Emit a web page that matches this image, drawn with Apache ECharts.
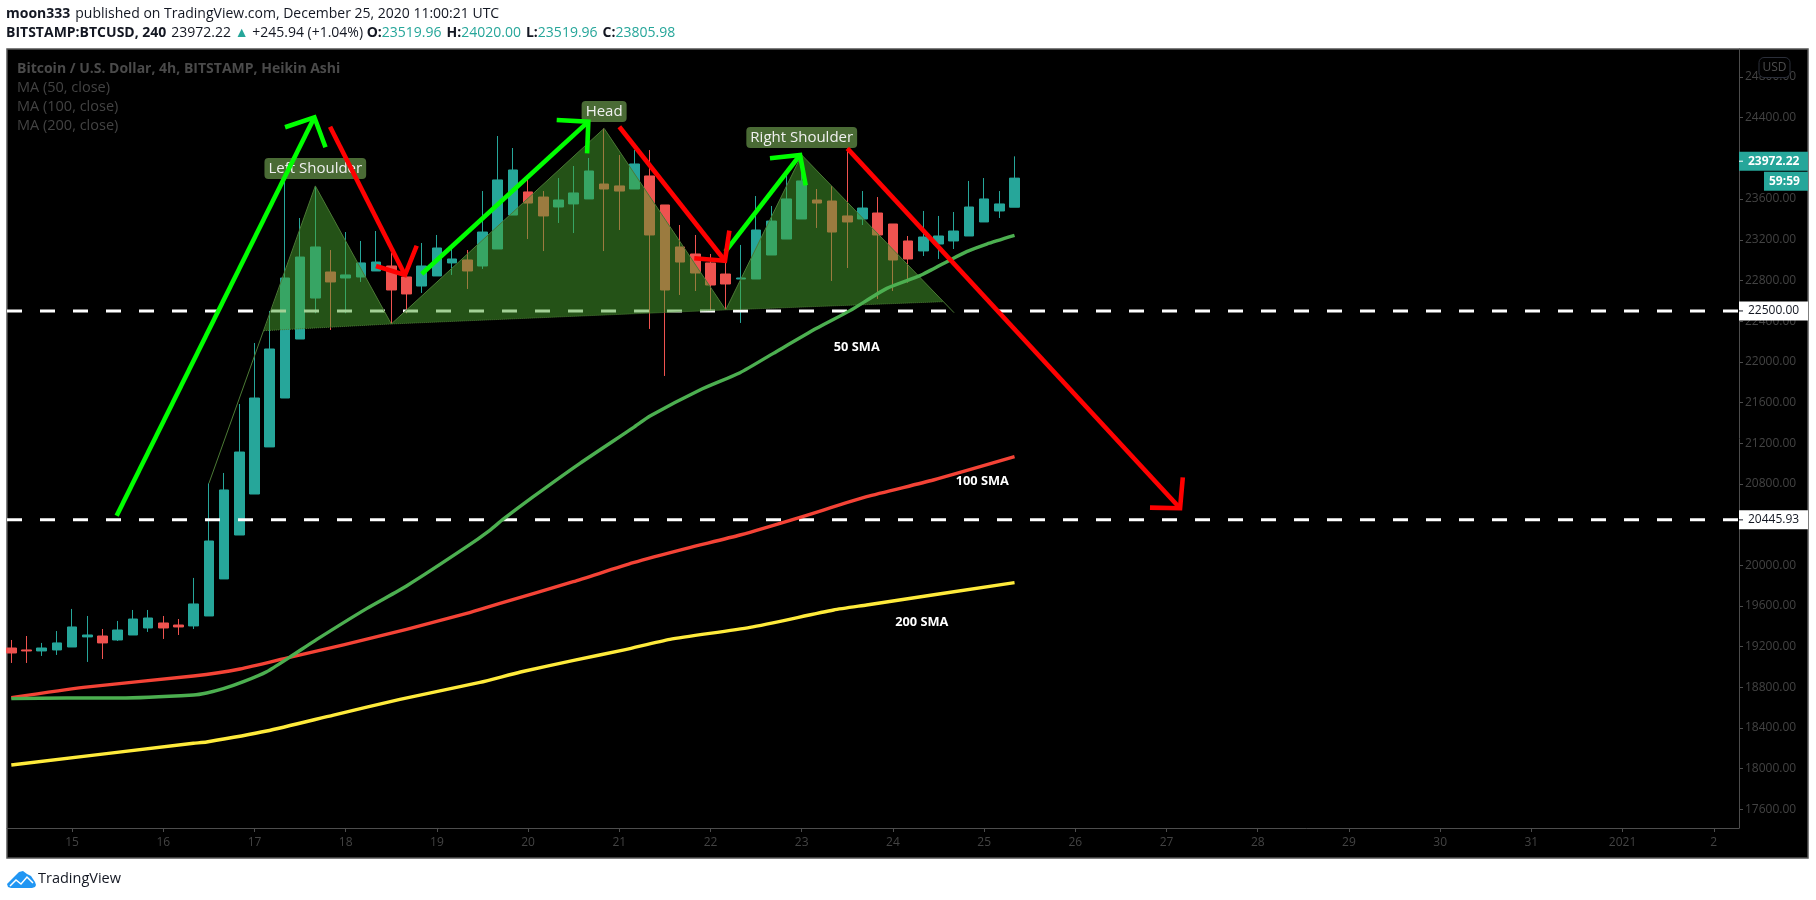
<!DOCTYPE html>
<html>
<head>
<meta charset="utf-8">
<style>html,body{margin:0;padding:0;background:#fff}#c{width:1816px;height:900px}</style>
<script src="https://cdn.jsdelivr.net/npm/echarts@6/dist/echarts.min.js"></script>
</head>
<body>
<div id="c"></div>
<script>
const dayLabels = ['15','16','17','18','19','20','21','22','23','24','25','26','27','28','29','30','31','2021','2'];
const dayCandleIndex = [4,10,16,22,28,34,40,46,52,58,64,70,76,82,88,94,100,106,112];
const priceTicks = [17600,18000,18400,18800,19200,19600,20000,20400,20800,21200,21600,22000,22400,22800,23200,23600,24000,24400,24800];

const opens = [19186,19167,19157,19167,19196,19295,19304,19265,19314,19383,19432,19412,19403,19501,19865,20297,20700,21163,21644,22224,22627,22883,22824,22834,22893,22942,22834,22745,22844,22972,23001,22942,23109,23443,23670,23620,23522,23552,23601,23748,23729,23699,23827,23542,23129,23060,22972,22863,22814,22814,23050,23207,23404,23591,23581,23434,23404,23463,23355,23188,23090,23158,23188,23237,23375,23483,23519.96];
const closes = [19137,19157,19186,19236,19393,19314,19236,19363,19471,19481,19383,19393,19619,20238,20740,21113,21644,22126,22824,23030,23129,22785,22854,22972,22981,22706,22667,22942,23119,23011,22893,23276,23788,23886,23561,23434,23591,23660,23876,23699,23679,23945,23247,22706,22981,22873,22755,22765,22824,23296,23384,23601,23778,23561,23276,23375,23512,23247,23001,23011,23227,23237,23286,23522,23601,23552,23805.98];
const lows = [19039,19039,19108,19118,19196,19049,19078,19255,19314,19344,19275,19314,19373,19501,19865,20297,20700,21163,21644,22224,22477,22313,22477,22785,22893,22372,22477,22677,22844,22854,22716,22913,23109,23443,23207,23089,23365,23266,23601,23089,23296,23699,22323,21861,22657,22696,22510,22510,22382,22814,23050,23207,23404,23316,22795,22922,23345,22618,22696,22778,23040,23011,23109,23237,23375,23414,23519.96];
const highs = [19265,19304,19236,19353,19570,19501,19373,19452,19560,19560,19501,19471,19875,20805,20907,21585,22185,22500,23787,23414,23729,23099,23276,23188,23286,23070,22903,23168,23247,23119,23099,23679,24220,24102,23837,23679,23807,23925,24004,24295,24033,24082,24082,23542,23345,23247,23060,23001,23149,23630,23532,23837,24033,23699,23729,24099,23679,23620,23355,23237,23483,23434,23473,23778,23807,23679,24020];

const ma50 = [[0,18688],[3.64,18694],[7.15,18694],[11.98,18724],[12.85,18744],[13.95,18786],[15.27,18855],[16.8,18953],[18.3,19094],[20.1,19271],[23.4,19576],[26,19796],[29.96,20182],[31.5,20346],[32.3,20445],[34.34,20674],[37.41,21002],[40.92,21353],[42.02,21467],[45.3,21723],[47.94,21893],[50.13,22083],[52.98,22329],[55.18,22503],[57.6,22722],[59.78,22847],[61.76,23001],[62.85,23083],[64.17,23158],[66,23243]];
const ma100 = [[0,18698],[4.74,18799],[11.98,18911],[15.05,18980],[18.3,19094],[21.85,19216],[26,19370],[29.96,19527],[32.15,19626],[36.97,19838],[40.92,20025],[44.43,20166],[47.94,20297],[51.89,20471],[56.27,20674],[60.66,20838],[66,21067]];
const ma200 = [[0,18036],[11.98,18249],[12.85,18262],[16.8,18370],[21.2,18527],[25.57,18681],[30.83,18848],[33.5,18950],[37,19065],[40.4,19170],[43.33,19271],[48.6,19389],[54.1,19560],[56.27,19609],[66,19829]];

const levels = [22500, 20445.93];
const lastPrice = 23972.22;

const patternEdge = [[13,20805],[20,23729],[25,22372],[39,24295],[47,22510],[52,24033],[62.02,22483]];
const neckline = [[16.62,22306],[25,22372],[47,22510],[61.32,22591]];
const patternFills = [
  [[16.62,22306],[20,23729],[25,22372]],
  [[25,22372],[39,24295],[47,22510]],
  [[47,22510],[52,24033],[61.32,22591]]
];

const greenArrows = [
  [[6.93,20487],[19.94,24404]], [[18.01,24306],[19.94,24404],[20.67,24109]],
  [[27,22863],[37.96,24361]], [[35.88,24377],[37.96,24361],[37.88,24050]],
  [[46.97,23083],[51.89,24033]], [[49.91,24001],[51.89,24033],[52.26,23735]]
];
const redArrows = [
  [[20.97,24311],[25.9,22853]], [[23.99,22942],[25.9,22853],[26.67,23141]],
  [[40,24311],[46.95,22994]], [[44.93,23018],[46.95,22994],[47.24,23289]],
  [[55,24099],[76.89,20560]], [[74.91,20566],[76.89,20560],[77.07,20864]]
];

const boxLabels = [['Left Shoulder',20,23900],['Head',39,24461],['Right Shoulder',52,24205]];
const smaLabels = [['50 SMA',55.62,22142],['100 SMA',63.88,20825],['200 SMA',59.9,19442]];

const UP='#26a69a', DOWN='#ef5350', FONT='"Open Sans", sans-serif', AXIS='#4d4d4d', MUTED='#434343';
const X_MIN=-0.283, X_MAX=113.66, Y_MIN=17416.3, Y_MAX=25075.5;

function strokeSeries(points,color,width,z,dash,smooth){
  return {type:'line',data:points,symbol:'none',silent:true,z:z,animation:false,smooth:smooth||false,
    lineStyle:{color:color,width:width,type:dash||'solid',cap:'butt',join:'miter',opacity:1}};
}
const ohlc = opens.map((o,i)=>[i,o,closes[i],lows[i],highs[i]]);

const series = [
  {type:'candlestick',data:ohlc,barWidth:10,z:2,silent:true,animation:false,
   encode:{x:0,y:[1,2,3,4]},
   itemStyle:{color:UP,color0:DOWN,borderColor:UP,borderColor0:DOWN,borderWidth:1}},
  ...levels.map(v=>strokeSeries([[X_MIN,v],[X_MAX,v]],'#ffffff',3,3,[15,18])),
  {type:'custom',z:4,silent:true,animation:false,data:patternFills.map((t,i)=>[i]),
   renderItem:(p,api)=>({type:'polygon',
     shape:{points:patternFills[p.dataIndex].map(v=>api.coord(v))},
     style:{fill:'rgba(72,164,46,0.5)',stroke:null}})},
  strokeSeries(patternEdge,'#4b7a35',1,5),
  strokeSeries(neckline,'#4b7a35',1,5,[1,1]),
  strokeSeries(ma200,'#ffeb3b',3.4,6,null,0.2),
  strokeSeries(ma100,'#f44336',3.4,6,null,0.2),
  strokeSeries(ma50,'#4caf50',3.4,6,null,0.2),
  {type:'custom',z:7,silent:true,animation:false,data:boxLabels.map((t,i)=>[i]),
   renderItem:(p,api)=>{const b=boxLabels[p.dataIndex],c=api.coord([b[1],b[2]]);
     return {type:'text',x:c[0],y:c[1],style:{text:b[0],fill:'#f0f0f0',font:'15px '+FONT,
       align:'center',verticalAlign:'middle',backgroundColor:'#4a6b35',padding:[3,4,3,4],borderRadius:4}};}},
  {type:'custom',z:7,silent:true,animation:false,data:smaLabels.map((t,i)=>[i]),
   renderItem:(p,api)=>{const b=smaLabels[p.dataIndex],c=api.coord([b[1],b[2]]);
     return {type:'text',x:c[0],y:c[1],style:{text:b[0],fill:'#ffffff',font:'bold 12.8px '+FONT,
       align:'center',verticalAlign:'middle'}};}},
  ...greenArrows.map(a=>strokeSeries(a,'#00ff00',4.6,8)),
  ...redArrows.map(a=>strokeSeries(a,'#ff0000',4.6,8)),
  {type:'custom',z:9,silent:true,animation:false,clip:false,data:levels.map((t,i)=>[i]),
   renderItem:(p,api)=>{const v=levels[p.dataIndex],c=api.coord([X_MAX,v]);
     return {type:'group',children:[
       {type:'rect',shape:{x:c[0],y:c[1]-9.5,width:69,height:19},style:{fill:'#ffffff'}},
       {type:'rect',shape:{x:c[0],y:c[1]-0.5,width:4,height:1},style:{fill:'#131722'}},
       {type:'text',x:c[0]+9,y:c[1],style:{text:v.toFixed(2),fill:'#131722',font:'12px '+FONT,verticalAlign:'middle',align:'left'}}
     ]};}},
  {type:'custom',z:9,silent:true,animation:false,clip:false,data:[[0]],
   renderItem:(p,api)=>{const c=api.coord([X_MAX,lastPrice]);
     return {type:'group',children:[
       {type:'rect',shape:{x:c[0],y:c[1]-9.5,width:69,height:19},style:{fill:UP}},
       {type:'rect',shape:{x:c[0],y:c[1]-0.5,width:4,height:1},style:{fill:'#ffffff'}},
       {type:'text',x:c[0]+9,y:c[1],style:{text:lastPrice.toFixed(2),fill:'#ffffff',font:'bold 12px '+FONT,verticalAlign:'middle',align:'left'}},
       {type:'rect',shape:{x:c[0]+25,y:c[1]+10.5,width:44,height:19},style:{fill:UP}},
       {type:'text',x:c[0]+30,y:c[1]+20,style:{text:'59:59',fill:'#ffffff',font:'bold 12px '+FONT,verticalAlign:'middle',align:'left'}}
     ]};}}
];

const hdr2 = '{b|BITSTAMP:BTCUSD, 240} {n|23972.22 }{t|▲}{n| +245.94 (+1.04%) }{b|O:}{v|23519.96} {b|H:}{v|24020.00} {b|L:}{v|23519.96} {b|C:}{v|23805.98}';
const hdrRich = {b:{fontFamily:FONT,fontWeight:'bold',fontSize:14,color:'#131722'},
  n:{fontFamily:FONT,fontWeight:'normal',fontSize:14,color:'#131722'},
  v:{fontFamily:FONT,fontWeight:'normal',fontSize:14,color:UP},
  t:{fontFamily:FONT,fontWeight:'normal',fontSize:14,color:UP}};

const option = {
  backgroundColor:'#ffffff', animation:false,
  title:[
    {left:6,top:5,padding:0,text:'{b|moon333} {n|published on TradingView.com, December 25, 2020 11:00:21 UTC}',textStyle:{rich:hdrRich}},
    {left:6,top:24,padding:0,text:hdr2,textStyle:{rich:hdrRich}},
    {left:17,top:62,padding:0,text:'Bitcoin / U.S. Dollar, 4h, BITSTAMP, Heikin Ashi',textStyle:{fontFamily:FONT,fontSize:14,fontWeight:'bold',color:'#4a4a4a'}},
    {left:17,top:80,padding:0,text:'MA (50, close)',textStyle:{fontFamily:FONT,fontSize:14.5,fontWeight:'normal',color:MUTED}},
    {left:17,top:99,padding:0,text:'MA (100, close)',textStyle:{fontFamily:FONT,fontSize:14.5,fontWeight:'normal',color:MUTED}},
    {left:17,top:118,padding:0,text:'MA (200, close)',textStyle:{fontFamily:FONT,fontSize:14.5,fontWeight:'normal',color:MUTED}}
  ],
  grid:{left:7,top:49,width:1732,height:779,containLabel:false},
  xAxis:{type:'value',min:X_MIN,max:X_MAX,position:'bottom',splitLine:{show:false},
    axisLine:{onZero:false,lineStyle:{color:AXIS,width:1}},
    axisTick:{length:4,customValues:dayCandleIndex,lineStyle:{color:AXIS}},
    axisLabel:{customValues:dayCandleIndex,margin:9,color:MUTED,fontFamily:FONT,fontSize:12,
      formatter:v=>dayLabels[dayCandleIndex.indexOf(v)]||''}},
  yAxis:{type:'value',min:Y_MIN,max:Y_MAX,position:'right',splitLine:{show:false},
    axisLine:{show:true,onZero:false,lineStyle:{color:AXIS,width:1}},
    axisTick:{show:true,length:4,customValues:priceTicks,lineStyle:{color:AXIS}},
    axisLabel:{customValues:priceTicks,margin:6,color:MUTED,fontFamily:FONT,fontSize:12,
      formatter:v=>v.toFixed(2)}},
  graphic:[
    {type:'rect',z:-1,silent:true,shape:{x:7,y:49,width:1801,height:809},style:{fill:'#000000',stroke:'#555555',lineWidth:1.5}},
    {type:'rect',z:100,silent:true,shape:{x:1759,y:57.5,width:31,height:20,r:5},style:{fill:'#000000',stroke:'#2a2e39',lineWidth:1}},
    {type:'text',z:101,silent:true,x:1774.5,y:67.5,style:{text:'USD',fill:'#4d4d4d',font:'12px '+FONT,align:'center',verticalAlign:'middle'}},
    {type:'polygon',z:10,silent:true,shape:{points:[[7,884],[15,876],[19,872],[23,871],[27,874],[31,876],[35,882],[36,885],[35,887],[32,888],[11,888],[8,887]]},style:{fill:'#2196f3'}},
    {type:'polyline',z:11,silent:true,shape:{points:[[10,886],[16,880],[21,884],[27,877],[33,883]]},style:{stroke:'#ffffff',fill:null,lineWidth:1.5}},
    {type:'text',z:10,silent:true,x:38,y:879,style:{text:'TradingView',fill:'#131722',font:'14.5px '+FONT,verticalAlign:'middle'}}
  ],
  series:series
};
const chart = echarts.init(document.getElementById('c'),null,{renderer:'canvas',width:1816,height:900});
chart.setOption(option);
</script>
</body>
</html>
